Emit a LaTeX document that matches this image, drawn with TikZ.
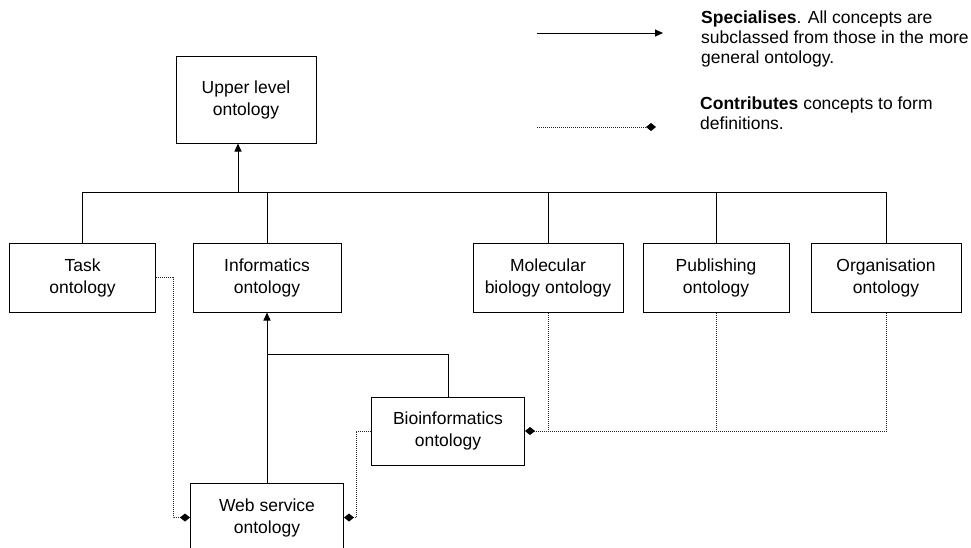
\documentclass[tikz,border=0pt]{standalone}
\usepackage{fontspec}
\setmainfont{Liberation Sans}
\usepackage{tikz}
\usetikzlibrary{positioning,arrows.meta}

\begin{document}
\begin{tikzpicture}[x=1pt,y=-1pt]
		\tikzset{Onto/.style = {rectangle, draw, line width=1pt, align = center, inner sep=0pt,
				minimum width=150pt, minimum height=69pt, font=\fontsize{17.5}{22}\selectfont},
			Spec/.style = {line width=1pt, -{Triangle[length=8pt,width=7pt]}},
			Contr/.style = {line width=1pt, black!85, dash pattern=on 1pt off 1pt},
			ContrTip/.style = {Contr, -{Diamond[length=10pt,width=8pt,black]}},
			Note/.style = {anchor=north west, align=left, inner sep=0pt, font=\fontsize{17.5}{20}\selectfont}}
		\useasboundingbox (0,0) rectangle (971,547);
		\node[Onto, minimum width=140pt, minimum height=87pt] (U) at (246,99.5) {Upper level\\ontology};
		\node[Onto, minimum width=146pt] (T) at (82.5,277.5) {Task\\ontology};
		\node[Onto, minimum width=148pt] (I) at (267,277.5) {Informatics\\ontology};
		\node[Onto, minimum width=150pt] (M) at (548,277.5) {Molecular\\biology ontology};
		\node[Onto, minimum width=146pt] (P) at (716,277.5) {Publishing\\ontology};
		\node[Onto, minimum width=150pt] (O) at (886,277.5) {Organisation\\ontology};
		\node[Onto, minimum width=153pt, minimum height=68pt] (B) at (448,431) {Bioinformatics\\ontology};
		\node[Onto, minimum width=153pt] (W) at (267,517.5) {Web service\\ontology};
		\coordinate (J) at (238,192);
		\coordinate (K) at (267,354);
		% specialises
		\draw [Spec] (J) -- (U.south -| J);
		\draw [line width=1pt] (T.north) -- (T.north |- J) -- (O.north |- J) -- (O.north);
		\draw [line width=1pt] (I.north) -- (I.north |- J);
		\draw [line width=1pt] (M.north) -- (M.north |- J);
		\draw [line width=1pt] (P.north) -- (P.north |- J);
		\draw [Spec] (W.north) -- (I.south);
		\draw [line width=1pt] (B.north) |- (K);
		% contributes
		\draw [ContrTip] (T.east) -- ++(17,0) |- (W.west);
		\draw [ContrTip] (B.west) -- ++(-15,0) |- (W.east);
		\draw [ContrTip] (O.south) |- (B.east);
		\draw [Contr] (M.south) -- (M.south |- B.east);
		\draw [Contr] (P.south) -- (P.south |- B.east);
		% legend
		\coordinate (S1) at (537,33);
		\coordinate (S2) at (663,33);
		\coordinate (C1) at (537,127);
		\coordinate (C2) at (656,127);
		\draw [Spec] (S1) -- (S2);
		\draw [ContrTip] (C1) -- (C2);
		\node[Note] (LS) at (701,11) {\textbf{Specialises}. All concepts are\\subclassed from those in the more\\general ontology.};
		\node[Note] (LC) at (700,97) {\textbf{Contributes} concepts to form\\definitions.};
	\end{tikzpicture}
\end{document}
